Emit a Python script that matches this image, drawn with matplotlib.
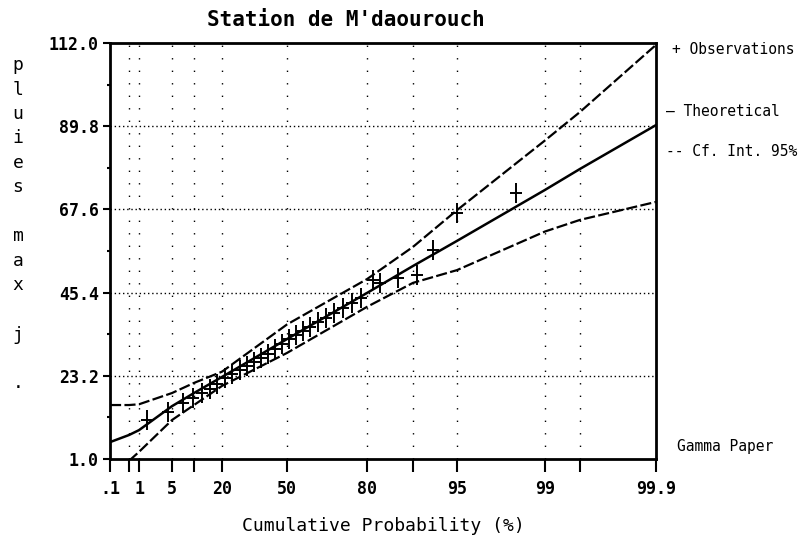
import matplotlib.pyplot as plt
import numpy as np
from matplotlib.path import Path

# gamma probability paper: probability (%) -> distance along the axis
paper_prob = [0.1, 0.5, 1, 5, 10, 20, 50, 80, 90, 95, 99, 99.5, 99.9]
paper_pos = [0, 19, 29, 62, 84, 112, 177, 257, 303, 347, 435, 470, 546]

major_ticks = [0.1, 1, 5, 20, 50, 80, 95, 99, 99.9]
major_labels = ['.1', '1', '5', '20', '50', '80', '95', '99', '99.9']
minor_ticks = [0.5, 10, 90, 99.5]
y_ticks = [1.0, 23.2, 45.4, 67.6, 89.8, 112.0]

# fitted quantiles and 95% confidence band
curve_prob = [0.1, 0.5, 1, 5, 10, 20, 50, 80, 90, 95, 99, 99.5, 99.9]
theoretical = [5.5, 7.4, 8.7, 15.1, 18.6, 22.9, 33.0, 45.3, 52.5, 59.2, 72.8, 78.4, 90.1]
upper_ci = [15.4, 15.4, 15.6, 18.6, 21.3, 24.3, 36.9, 49.0, 57.6, 67.4, 86.0, 93.6, 111.5]
lower_prob = [0.5, 1, 5, 10, 20, 50, 80, 90, 95, 99, 99.5, 99.9]
lower_ci = [0.5, 2.9, 11.4, 15.4, 20.5, 29.3, 41.6, 48.0, 51.4, 61.7, 64.8, 69.6]

# observed annual maximum daily rainfall
obs_prob = [2.0, 4.5, 7.5, 9.8, 12.9, 15.7, 18.2, 21.4, 24.6, 28.3, 31.5, 34.8,
            38.0, 41.2, 44.5, 47.7, 50.8, 53.4, 56.0, 58.6, 61.6, 64.6, 67.5,
            70.9, 74.3, 77.6, 81.3, 82.8, 86.7, 90.5, 92.3, 95.0, 97.7]
obs_val = [11.4, 13.5, 16.0, 17.3, 18.6, 19.7, 21.0, 22.6, 23.7, 24.7, 25.8, 26.9,
           27.9, 29.0, 30.3, 31.7, 33.0, 34.1, 35.2, 36.2, 37.6, 38.6, 39.9,
           41.3, 42.6, 43.9, 48.8, 48.0, 49.3, 50.1, 56.8, 66.6, 72.0]


def to_paper(p):
    return np.interp(p, paper_prob, paper_pos)


def from_paper(x):
    return np.interp(x, paper_pos, paper_prob)


mono = 'DejaVu Sans Mono'
plt.rcParams['font.family'] = mono

fig = plt.figure(figsize=(8.11, 5.43), dpi=100)
ax = fig.add_axes([110 / 811, 84 / 543, 546 / 811, 416 / 543])
ax.set_xscale('function', functions=(to_paper, from_paper))
ax.set_xlim(0.1, 99.9)
ax.set_ylim(1.0, 112.0)

# dotted grid
for p in major_ticks[1:-1] + minor_ticks:
    ax.axvline(p, color='black', lw=1, ls=(0, (1, 8)))
for v in y_ticks[1:-1]:
    ax.axhline(v, color='black', lw=1, ls=(0, (1, 2)))

ax.plot(curve_prob, theoretical, color='black', lw=1.8)
ax.plot(curve_prob, upper_ci, color='black', lw=1.6, ls=(0, (5, 1.5)))
ax.plot(lower_prob, lower_ci, color='black', lw=1.6, ls=(0, (5, 1.5)))

cross = Path([(0, -1), (0, 1), (-0.6, 0), (0.6, 0)],
             [Path.MOVETO, Path.LINETO, Path.MOVETO, Path.LINETO])
ax.plot(obs_prob, obs_val, ls='none', marker=cross, ms=14, mew=1.4, color='black')

ax.set_xticks(major_ticks)
ax.set_xticklabels(major_labels)
ax.set_xticks(minor_ticks, minor=True)
ax.set_yticks(y_ticks)
ax.set_yticklabels(['%.1f' % v for v in y_ticks])
ax.set_yticks([(a + b) / 2 for a, b in zip(y_ticks[:-1], y_ticks[1:])], minor=True)
ax.tick_params(axis='x', which='both', direction='out', length=9, width=1.5,
               labelsize=12, pad=6)
ax.tick_params(axis='y', which='major', direction='out', length=5, width=1.5,
               labelsize=12, pad=3)
ax.tick_params(axis='y', which='minor', direction='out', length=2, width=1.5)
for lab in ax.get_xticklabels() + ax.get_yticklabels():
    lab.set_fontweight('bold')

for s in ax.spines.values():
    s.set_linewidth(2)

ax.set_xlabel('Cumulative Probability (%)', fontsize=13, labelpad=14)

fig.text(207 / 811, 1 - 20 / 543, "Station de M'daourouch", fontsize=15,
         fontweight='bold', ha='left', va='center')

# vertical axis title, one letter per line
for i, ch in enumerate('pluies max j .'):
    fig.text(18 / 811, 1 - (70 + i * 24.5) / 543, ch, fontsize=13,
             ha='center', va='baseline')

fig.text(672 / 811, 1 - 50 / 543, '+ Observations', fontsize=10.5, va='center')
fig.text(666 / 811, 1 - 112 / 543, '\u2014 Theoretical', fontsize=10.5, va='center')
fig.text(666 / 811, 1 - 152 / 543, '-- Cf. Int. 95%', fontsize=10.5, va='center')
fig.text(677 / 811, 1 - 446 / 543, 'Gamma Paper', fontsize=10.5, va='center')

fig.savefig('out.png', dpi=100)
